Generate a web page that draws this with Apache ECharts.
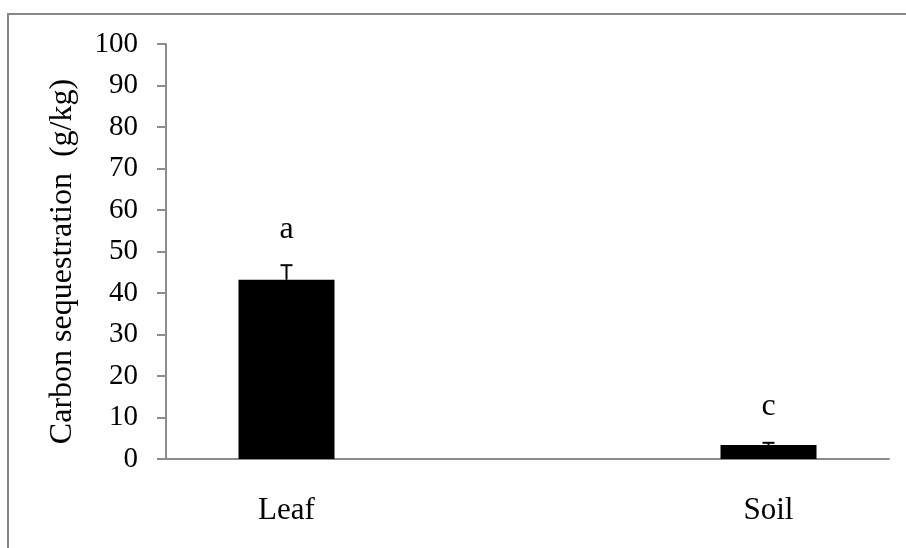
<!DOCTYPE html>
<html>
<head>
<meta charset="utf-8">
<script src="https://cdn.jsdelivr.net/npm/echarts@6/dist/echarts.min.js"></script>
<style>
  html, body { margin: 0; padding: 0; background: #fff; }
  #chart { width: 906px; height: 548px; }
</style>
</head>
<body>
<div id="chart"></div>
<script>
const categories = ['Leaf', 'Soil'];
const values = [43.2, 3.4];
const errors = [3.5, 0.5];
const letters = ['a', 'c'];

const serif = 'Liberation Serif';

const chart = echarts.init(document.getElementById('chart'));

const barData = values.map((v, i) => [i, v]);
const errData = values.map((v, i) => [i, v, errors[i], letters[i]]);

chart.setOption({
    animation: false,
    graphic: [{
        type: 'rect',
        shape: { x: 8, y: 14, width: 960, height: 600 },
        style: { fill: 'none', stroke: '#888', lineWidth: 2 },
        silent: true
    }],
    grid: { left: 166, right: 17, top: 44, bottom: 89 },
    xAxis: {
        type: 'value',
        min: -0.25,
        max: 1.25,
        splitLine: { show: false },
        axisLine: { show: true, onZero: false, lineStyle: { color: '#8c8c8c', width: 2 } },
        axisTick: { show: false },
        axisLabel: {
            customValues: [0, 1],
            formatter: (v) => categories[Math.round(v)] || '',
            fontFamily: serif,
            fontSize: 31,
            color: '#000',
            margin: 36
        }
    },
    yAxis: {
        type: 'value',
        min: 0,
        max: 100,
        interval: 10,
        name: 'Carbon sequestration  (g/kg)',
        nameLocation: 'middle',
        nameGap: 87,
        nameTextStyle: { fontFamily: serif, fontSize: 32, color: '#000', padding: [0, 20, 0, 0] },
        splitLine: { show: false },
        axisLine: { show: true, onZero: false, lineStyle: { color: '#8c8c8c', width: 2 } },
        axisTick: { show: true, inside: false, length: 9, lineStyle: { color: '#8c8c8c', width: 2 } },
        axisLabel: { fontFamily: serif, fontSize: 29, color: '#000', margin: 28 }
    },
    series: [{
        type: 'bar',
        data: barData,
        barWidth: 96,
        itemStyle: { color: '#000' }
    }, {
        type: 'custom',
        data: errData,
        z: 5,
        renderItem: (params, api) => {
            const x = api.value(0);
            const v = api.value(1);
            const e = api.value(2);
            const base = api.coord([x, v]);
            const top = api.coord([x, v + e]);
            const half = 6;
            return {
                type: 'group',
                children: [{
                    type: 'line',
                    shape: { x1: base[0], y1: base[1], x2: top[0], y2: top[1] },
                    style: { stroke: '#000', lineWidth: 2 }
                }, {
                    type: 'line',
                    shape: { x1: top[0] - half, y1: top[1], x2: top[0] + half, y2: top[1] },
                    style: { stroke: '#000', lineWidth: 2 }
                }, {
                    type: 'text',
                    style: {
                        text: api.value(3),
                        x: top[0],
                        y: top[1] - 36,
                        align: 'center',
                        verticalAlign: 'middle',
                        fontFamily: serif,
                        fontSize: 32,
                        fill: '#000'
                    }
                }]
            };
        }
    }]
});
</script>
</body>
</html>
